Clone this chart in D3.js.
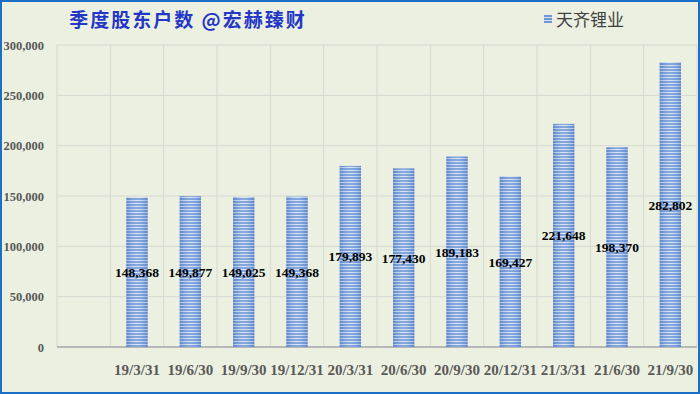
<!DOCTYPE html>
<html>
<head>
<meta charset="utf-8">
<script src="https://cdn.jsdelivr.net/npm/d3@7"></script>
<style>
  body { margin: 0; background: #fff; }
  svg { display: block; }
</style>
</head>
<body>
<div class="container"></div>
<script>
// quarters (first slot is blank in the original chart)
const categories = ['', '19/3/31', '19/6/30', '19/9/30', '19/12/31', '20/3/31', '20/6/30',
                    '20/9/30', '20/12/31', '21/3/31', '21/6/30', '21/9/30'];
const holders = [null, 148368, 149877, 149025, 149368, 179893, 177430,
                 189183, 169427, 221648, 198370, 282802];
const yTicks = [0, 50000, 100000, 150000, 200000, 250000, 300000];
const seriesName = '天齐锂业';
const title = '季度股东户数 @宏赫臻财';

let width = 700, height = 394,
    margin = { top: 45, right: 3, bottom: 47, left: 57 },
    innerW = width - margin.left - margin.right,
    innerH = height - margin.top - margin.bottom;

let svg = d3.select('.container')
            .append('svg')
            .attr('width', width)
            .attr('height', height);

let defs = svg.append('defs');
let pat = defs.append('pattern')
              .attr('id', 'stripes')
              .attr('patternUnits', 'userSpaceOnUse')
              .attr('width', 8).attr('height', 3);
pat.append('rect').attr('width', 8).attr('height', 3).attr('fill', '#6f98d8');
pat.append('rect').attr('y', 2).attr('width', 8).attr('height', 1).attr('fill', '#d3e0f3');

let grad = defs.append('linearGradient').attr('id', 'shade');
grad.append('stop').attr('offset', '0%').attr('stop-color', '#3a68b8').attr('stop-opacity', 0.35);
grad.append('stop').attr('offset', '50%').attr('stop-color', '#ffffff').attr('stop-opacity', 0.15);
grad.append('stop').attr('offset', '100%').attr('stop-color', '#3a68b8').attr('stop-opacity', 0.35);

// background + frame
svg.append('rect')
   .attr('x', 1).attr('y', 1)
   .attr('width', width - 2).attr('height', height - 2)
   .attr('fill', '#ecf0e0')
   .attr('stroke', '#1c6fc6')
   .attr('stroke-width', 2);

let xScale = d3.scaleBand()
               .domain(categories.map((c, i) => i))
               .range([0, innerW])
               .paddingInner(0.6)
               .paddingOuter(0.3);

let yScale = d3.scaleLinear()
               .domain([0, 300000])
               .range([innerH, 0]);

let g = svg.append('g')
           .attr('transform', `translate(${margin.left}, ${margin.top})`);

// horizontal grid
g.append('g')
 .selectAll('line')
 .data(yTicks.slice(1))
 .enter()
 .append('line')
 .attr('x1', 0).attr('x2', innerW)
 .attr('y1', d => yScale(d)).attr('y2', d => yScale(d))
 .attr('stroke', '#d6d8d0');

// vertical grid at category boundaries
let step = innerW / categories.length;
g.append('g')
 .selectAll('line')
 .data(d3.range(categories.length + 1))
 .enter()
 .append('line')
 .attr('x1', i => i * step).attr('x2', i => i * step)
 .attr('y1', 0).attr('y2', innerH)
 .attr('stroke', '#d6d8d0');

let yAxis = d3.axisLeft(yScale)
              .tickValues(yTicks)
              .tickFormat(d3.format(','))
              .tickSize(0)
              .tickPadding(13);

g.append('g')
 .attr('id', 'y-axis')
 .call(yAxis)
 .call(a => a.select('.domain').remove())
 .selectAll('text')
 .style('font-family', '"Liberation Serif", serif')
 .style('font-weight', 'bold')
 .style('font-size', '12.5px')
 .attr('fill', '#595959');

// x axis
g.append('line')
 .attr('x1', 0).attr('x2', innerW)
 .attr('y1', innerH).attr('y2', innerH)
 .attr('stroke', '#b8b8b8').attr('stroke-width', 2);

g.append('g')
 .selectAll('text')
 .data(categories)
 .enter()
 .append('text')
 .attr('x', (d, i) => xScale(i) + xScale.bandwidth() / 2)
 .attr('y', innerH + 28)
 .attr('text-anchor', 'middle')
 .style('font-family', '"Liberation Serif", serif')
 .style('font-weight', 'bold')
 .style('font-size', '15px')
 .attr('fill', '#595959')
 .text(d => d);

let data = holders.map((v, i) => ({ i: i, v: v })).filter(d => d.v != null);

let bars = g.append('g');
bars.selectAll('rect.bar')
    .data(data)
    .enter()
    .append('rect')
    .attr('class', 'bar')
    .attr('x', d => xScale(d.i))
    .attr('y', d => yScale(d.v))
    .attr('width', xScale.bandwidth())
    .attr('height', d => innerH - yScale(d.v))
    .attr('fill', 'url(#stripes)');

bars.selectAll('rect.shade')
    .data(data)
    .enter()
    .append('rect')
    .attr('class', 'shade')
    .attr('x', d => xScale(d.i))
    .attr('y', d => yScale(d.v))
    .attr('width', xScale.bandwidth())
    .attr('height', d => innerH - yScale(d.v))
    .attr('fill', 'url(#shade)');

// value labels in the middle of each bar
g.append('g')
 .selectAll('text')
 .data(data)
 .enter()
 .append('text')
 .attr('x', d => xScale(d.i) + xScale.bandwidth() / 2)
 .attr('y', d => (yScale(d.v) + innerH) / 2 + 5)
 .attr('text-anchor', 'middle')
 .style('font-family', '"Liberation Serif", serif')
 .style('font-weight', 'bold')
 .style('font-size', '13.5px')
 .attr('fill', '#000')
 .text(d => d3.format(',')(d.v));

// title
svg.append('text')
   .attr('x', 188)
   .attr('y', 27)
   .attr('text-anchor', 'middle')
   .style('font-family', '"Noto Sans CJK SC", sans-serif')
   .style('font-weight', 'bold')
   .style('font-size', '19px')
   .style('letter-spacing', '2px')
   .attr('fill', '#2236c8')
   .text(title);

// legend
svg.append('rect')
   .attr('x', 544).attr('y', 15)
   .attr('width', 8).attr('height', 8)
   .attr('fill', 'url(#stripes)');
svg.append('text')
   .attr('x', 556)
   .attr('y', 26)
   .style('font-family', '"Noto Sans CJK SC", sans-serif')
   .style('font-size', '17px')
   .attr('fill', '#404040')
   .text(seriesName);
</script>
</body>
</html>
